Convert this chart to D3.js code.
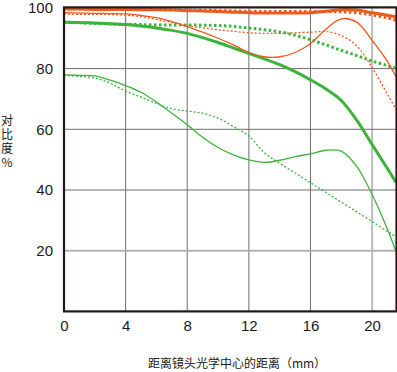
<!DOCTYPE html>
<html><head><meta charset="utf-8">
<script src="https://cdn.jsdelivr.net/npm/d3@7/dist/d3.min.js"></script>
<style>
html,body{margin:0;padding:0;background:#fff;}
svg{display:block;}
text{font-family:"Liberation Sans",Arial,sans-serif;fill:#231815;}
.cjk{font-family:"Noto Sans CJK SC",sans-serif;}
.vert{writing-mode:vertical-rl;text-orientation:upright;letter-spacing:2px;}
</style></head><body>
<svg id="chart" width="397" height="372"></svg>
<script>
// image-height positions (mm from optical center)
const positions = [0,1,2,3,4,5,6,7,8,9,10,11,12,13,14,15,16,17,18,19,20,21,21.55];
// contrast (%) values per series
const orangeThickSolid  = [99.6,99.6,99.5,99.5,99.5,99.4,99.4,99.3,99.1,99,98.8,98.6,98.4,98.3,98.3,98.3,98.4,98.9,99.4,99.3,98.4,97.6,97.1];
const orangeThickDotted = [99.7,99.7,99.6,99.6,99.6,99.5,99.5,99.4,99.3,99.2,99.1,99,98.9,98.8,98.8,98.8,98.8,98.8,98.7,98.4,97.7,96.7,95.9];
const orangeThinSolid   = [98.4,98.3,98.2,98.1,98,97.5,96.8,95.5,93.8,92,90,87.8,85.3,83.9,83.9,85.3,88.3,93,96.4,95.3,89.3,82.3,77.3];
const orangeThinDashed  = [98,97.9,97.9,97.8,97.6,97.1,96.2,95.2,94.1,93.4,92.8,92.3,91.8,91.6,91.6,91.8,92,92.2,90.9,87.5,80.3,71.5,66.6];
const greenThickSolid   = [95.3,95.2,95,94.8,94.5,94,93.4,92.6,91.6,90.2,88.6,86.8,85,83.2,81.3,79,76.3,73.3,69.5,63,55,47,42.5];
const greenThickDotted  = [95.3,95.1,94.9,94.7,94.6,94.5,94.4,94.4,94.4,94.3,94.2,93.9,93.4,92.8,92.1,91,89.5,87.8,86,84.3,82.5,81,80];
const greenThinSolid    = [77.9,77.8,77.6,76.2,74.4,72.2,69,65.3,61.5,57.4,54,51.6,49.9,49.1,49.8,51,51.9,53.1,52.8,47.8,38.5,27,19.7];
const greenThinDashed   = [77.9,77.4,76.9,75.2,72.6,70.6,68.5,66.8,66,65.3,63.7,60.9,57.8,52.3,48.8,45.6,42.4,39.2,36,32.8,29.6,26.3,24.6];
const xTicks = [0,4,8,12,16,20];
const yTicks = [20,40,60,80,100];
const yTitle = "对比度%";
const xTitle = "距离镜头光学中心的距离（mm）";

const ORANGE = "#f15a1c", GREEN = "#3cb43c";
const series = [
  {v: greenThinDashed,  c: GREEN,  w: 1.3, d: "2,2"},
  {v: greenThinSolid,   c: GREEN,  w: 1.3, d: null},
  {v: greenThickDotted, c: GREEN,  w: 3,   d: "2.5,2.5"},
  {v: greenThickSolid,  c: GREEN,  w: 3,   d: null},
  {v: orangeThinDashed, c: ORANGE, w: 1.3, d: "2,2"},
  {v: orangeThinSolid,  c: ORANGE, w: 1.3, d: null},
  {v: orangeThickDotted,c: ORANGE, w: 3,   d: "2.5,2.5"},
  {v: orangeThickSolid, c: ORANGE, w: 3,   d: null}
];

const L = 64, R = 396, T = 7.9, B = 311.4;
const x = d3.scaleLinear().domain([0, 21.55]).range([L, R]);
const y = d3.scaleLinear().domain([0, 100]).range([B, T]);
const svg = d3.select("#chart");

svg.append("defs").append("clipPath").attr("id","clip")
  .append("rect").attr("x",L).attr("y",T).attr("width",R-L).attr("height",B-T);

// grid
const g = svg.append("g");
g.selectAll(".vg").data(xTicks.filter(t=>t>0)).enter().append("line")
  .attr("x1",d=>x(d)).attr("x2",d=>x(d)).attr("y1",T).attr("y2",B)
  .attr("stroke",d=>d===20?"#bdbdbd":"#6e6e6e").attr("stroke-width",d=>d===20?2:1);
g.selectAll(".hg").data(yTicks.filter(t=>t<100)).enter().append("line")
  .attr("x1",L).attr("x2",R).attr("y1",d=>y(d)).attr("y2",d=>y(d))
  .attr("stroke",d=>d===20?"#b5b5b5":"#6e6e6e").attr("stroke-width",d=>d===20?2:1);

// curves
const line = d3.line().x((d,i)=>x(positions[i])).y(d=>y(d)).curve(d3.curveCatmullRom.alpha(0.5));
const cg = svg.append("g").attr("clip-path","url(#clip)");
series.forEach(s=>{
  cg.append("path").attr("d", line(s.v)).attr("fill","none")
    .attr("stroke", s.c).attr("stroke-width", s.w)
    .attr("stroke-dasharray", s.d);
});

// frame
svg.append("rect").attr("x",L).attr("y",T-0.5).attr("width",R-L+0.5).attr("height",B-T+0.5)
  .attr("fill","none").attr("stroke","#231815").attr("stroke-width",2.2);

// axes
const yAxis = d3.axisLeft(y).tickValues(yTicks).tickSize(0).tickPadding(11);
svg.append("g").attr("transform",`translate(${L},0)`).call(yAxis)
  .call(a=>a.select(".domain").remove())
  .selectAll("text").attr("font-size",15).attr("font-family","Liberation Sans, Arial, sans-serif").attr("fill","#231815");
const xAxis = d3.axisBottom(x).tickValues(xTicks).tickSize(0).tickPadding(9);
svg.append("g").attr("transform",`translate(0,${B})`).call(xAxis)
  .call(a=>a.select(".domain").remove())
  .selectAll("text").attr("font-size",15).attr("font-family","Liberation Sans, Arial, sans-serif").attr("fill","#231815");

// titles
svg.append("text").attr("class","cjk vert").attr("x",7).attr("y",114)
  .attr("font-size",12).text(yTitle);
svg.append("text").attr("class","cjk").attr("x",237).attr("y",368)
  .attr("text-anchor","middle").attr("font-size",12).text(xTitle);
</script>
</body></html>
